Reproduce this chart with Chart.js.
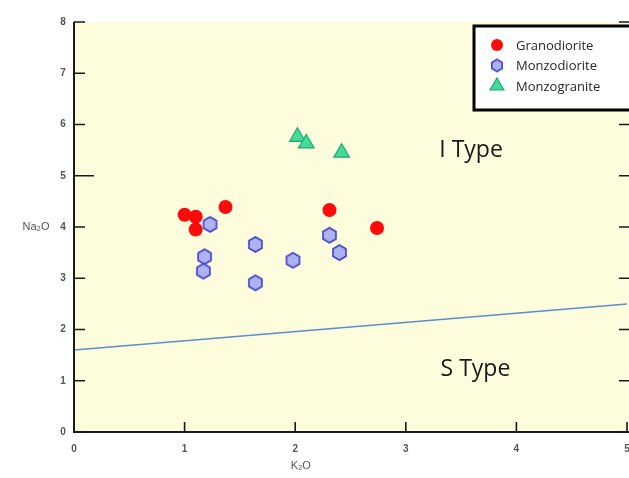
<!DOCTYPE html>
<html>
<head>
<meta charset="utf-8">
<script src="https://cdn.jsdelivr.net/npm/chart.js@4.4.1/dist/chart.umd.min.js"></script>
<style>
    html, body { margin: 0; padding: 0; background: #ffffff; }
    #wrap { width: 629px; height: 478px; }
</style>
</head>
<body>
<div id="wrap"><canvas id="typeChart"></canvas></div>
<script>
// ================= DATA =================

const granodioriteK = [1.00, 1.10, 1.10, 1.37, 2.31, 2.74];
const granodioriteNa = [4.24, 4.20, 3.95, 4.39, 4.33, 3.98];

const monzodioriteK = [1.23, 1.64, 1.18, 1.17, 1.64, 1.98, 2.31, 2.40];
const monzodioriteNa = [4.05, 3.66, 3.42, 3.14, 2.91, 3.35, 3.84, 3.50];

const monzograniteK = [2.02, 2.10, 2.42];
const monzograniteNa = [5.76, 5.63, 5.45];

// I / S type boundary
const boundaryK = [0, 5];
const boundaryNa = [1.6, 2.5];

const xTicks = [0, 1, 2, 3, 4, 5];
const yTicks = [0, 1, 2, 3, 4, 5, 6, 7, 8];

const toPoints = (xs, ys) => xs.map((x, i) => ({ x: x, y: ys[i] }));

// hexagon marker for Monzodiorite
function makeHexagon(r) {
    const c = document.createElement("canvas");
    const size = Math.ceil(r * 2 + 4);
    c.width = size;
    c.height = size;
    const ctx = c.getContext("2d");
    ctx.beginPath();
    for (let i = 0; i < 6; i++) {
        const a = Math.PI / 2 + i * Math.PI / 3;
        const px = size / 2 + r * Math.cos(a);
        const py = size / 2 + r * Math.sin(a);
        if (i === 0) ctx.moveTo(px, py); else ctx.lineTo(px, py);
    }
    ctx.closePath();
    ctx.fillStyle = "#aeb2f0";
    ctx.fill();
    ctx.lineWidth = 1.6;
    ctx.strokeStyle = "#3f3fd0";
    ctx.stroke();
    return c;
}
const hexMarker = makeHexagon(7.5);
const hexLegend = makeHexagon(6);

// ================= PLUGINS =================

const plotBackground = {
    id: "plotBackground",
    beforeDraw(chart) {
        const { ctx, chartArea: a } = chart;
        ctx.save();
        ctx.fillStyle = "#fdfcdc";
        ctx.fillRect(a.left, a.top, a.right - a.left + 4, a.bottom - a.top);
        ctx.restore();
    }
};

const frameAndText = {
    id: "frameAndText",
    afterDraw(chart) {
        const { ctx, chartArea: a, scales } = chart;
        const xs = scales.x, ys = scales.y;
        ctx.save();

        // axis lines
        ctx.strokeStyle = "#1a1a1a";
        ctx.lineWidth = 2;
        ctx.beginPath();
        ctx.moveTo(a.left, a.top);
        ctx.lineTo(a.left, a.bottom);
        ctx.lineTo(a.right + 4, a.bottom);
        ctx.stroke();

        // inward ticks
        ctx.lineWidth = 1.6;
        ctx.beginPath();
        yTicks.forEach(v => {
            const py = ys.getPixelForValue(v);
            const len = v === 5 ? 20 : 11;
            ctx.moveTo(a.left, py);
            ctx.lineTo(a.left + len, py);
            ctx.moveTo(a.right + 2, py);
            ctx.lineTo(a.right + 2 - 10, py);
        });
        xTicks.forEach(v => {
            const px = xs.getPixelForValue(v);
            ctx.moveTo(px, a.bottom);
            ctx.lineTo(px, a.bottom - 10);
        });
        ctx.stroke();

        // tick labels
        ctx.fillStyle = "#555555";
        ctx.font = "bold 10px 'Liberation Sans', Arial, sans-serif";
        ctx.textAlign = "center";
        ctx.textBaseline = "middle";
        yTicks.forEach(v => ctx.fillText(String(v), a.left - 11, ys.getPixelForValue(v)));
        xTicks.forEach(v => ctx.fillText(String(v), xs.getPixelForValue(v), a.bottom + 17));

        // axis titles
        ctx.font = "11px 'Liberation Sans', Arial, sans-serif";
        ctx.fillText("Na\u2082O", 36, ys.getPixelForValue(4));
        ctx.fillText("K\u2082O", xs.getPixelForValue(2.05), a.bottom + 34);

        // field names
        ctx.fillStyle = "#1a1a1a";
        ctx.font = "23px 'Open Sans', 'Liberation Sans', sans-serif";
        ctx.fillText("I Type", xs.getPixelForValue(3.59), ys.getPixelForValue(5.5));
        ctx.fillText("S Type", xs.getPixelForValue(3.63), ys.getPixelForValue(1.23));

        // legend box
        const bx = 474, by = 26, bw = 158, bh = 84;
        ctx.fillStyle = "#ffffff";
        ctx.fillRect(bx, by, bw, bh);
        ctx.strokeStyle = "#000000";
        ctx.lineWidth = 3;
        ctx.strokeRect(bx, by, bw, bh);

        ctx.font = "13px 'Open Sans', 'Liberation Sans', sans-serif";
        ctx.textAlign = "left";
        chart.data.datasets.forEach(ds => {
            if (!ds.inLegend) return;
            const ry = by + 19 + ds.legendRow * 20.5;
            ctx.fillStyle = ds.backgroundColor;
            ctx.strokeStyle = ds.borderColor;
            ctx.lineWidth = ds.borderWidth;
            Chart.helpers.drawPoint(ctx, {
                pointStyle: ds.legendStyle || ds.pointStyle,
                radius: ds.legendRadius,
                borderWidth: ds.borderWidth
            }, bx + 23, ry);
            ctx.fillStyle = "#262626";
            ctx.fillText(ds.label, bx + 42, ry + 1);
        });

        ctx.restore();
    }
};

// ================= CHART =================

const typeChart = new Chart(document.getElementById("typeChart"), {
    type: "scatter",

    data: {
        datasets: [
            {
                label: "Boundary",
                type: "line",
                data: toPoints(boundaryK, boundaryNa),
                borderColor: "#5b8fc9",
                borderWidth: 1.5,
                pointRadius: 0,
                fill: false,
                inLegend: false
            },
            {
                label: "Granodiorite",
                data: toPoints(granodioriteK, granodioriteNa),
                pointStyle: "circle",
                pointRadius: 7,
                pointHoverRadius: 7,
                backgroundColor: "#ff0a0a",
                borderColor: "#ff0a0a",
                borderWidth: 0,
                inLegend: true,
                legendRow: 0,
                legendRadius: 6
            },
            {
                label: "Monzodiorite",
                data: toPoints(monzodioriteK, monzodioriteNa),
                pointStyle: hexMarker,
                pointRadius: 8,
                backgroundColor: "#aeb2f0",
                borderColor: "#3f3fd0",
                borderWidth: 1.6,
                inLegend: true,
                legendRow: 1,
                legendStyle: hexLegend,
                legendRadius: 6
            },
            {
                label: "Monzogranite",
                data: toPoints(monzograniteK, monzograniteNa),
                pointStyle: "triangle",
                pointRadius: 9,
                pointHoverRadius: 9,
                backgroundColor: "#40dc98",
                borderColor: "#1fa873",
                borderWidth: 1.2,
                inLegend: true,
                legendRow: 2,
                legendRadius: 8
            }
        ]
    },

    options: {
        responsive: true,
        maintainAspectRatio: false,
        animation: false,
        events: [],

        layout: {
            autoPadding: false,
            padding: { top: 22, right: 2, left: 0, bottom: 0 }
        },

        plugins: {
            legend: { display: false },
            tooltip: { enabled: false }
        },

        scales: {
            x: {
                type: "linear",
                min: 0,
                max: 5,
                grid: { display: false },
                border: { display: false },
                ticks: { display: false, stepSize: 1 },
                afterFit(scale) {
                    scale.height = 46;
                    scale.paddingLeft = 0;
                    scale.paddingRight = 0;
                }
            },

            y: {
                type: "linear",
                min: 0,
                max: 8,
                grid: { display: false },
                border: { display: false },
                ticks: { display: false, stepSize: 1 },
                afterFit(scale) {
                    scale.width = 74;
                    scale.paddingTop = 0;
                    scale.paddingBottom = 0;
                }
            }
        }
    },

    plugins: [plotBackground, frameAndText]
});
</script>
</body>
</html>
